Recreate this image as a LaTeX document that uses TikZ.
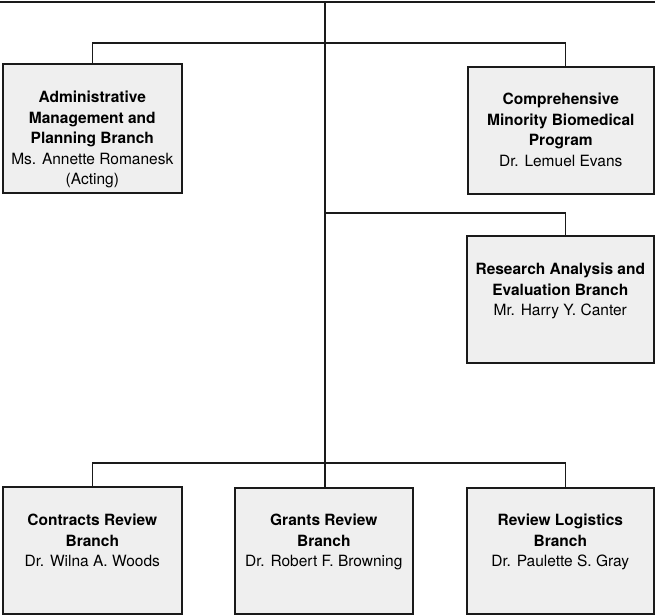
\documentclass[tikz,border=0pt]{standalone}
\usepackage{fontspec}
\setmainfont{TeX Gyre Heros}
\usetikzlibrary{positioning}
\definecolor{boxfill}{HTML}{EFEFEF}
\definecolor{boxborder}{HTML}{1A1A1A}

\begin{document}
\begin{tikzpicture}[x=1pt, y=-1pt,
    font=\fontsize{15.5}{20.5}\selectfont,
    orgbox/.style={draw=boxborder, line width=1.6pt, fill=boxfill,
      anchor=north west, inner sep=0pt, minimum height=127pt},
    orglabel/.style={align=center, inner sep=0pt, anchor=north},
    link/.style={draw=boxborder, line width=1.3pt},
    topline/.style={draw=boxborder, line width=2.6pt}]
      \useasboundingbox (0,0) rectangle (655,615);

      % boxes
      \node[orgbox, minimum width=179pt, minimum height=129pt] (admin) at (2,63) {};
      \node[orgbox, minimum width=186pt] (comp) at (467,66) {};
      \node[orgbox, minimum width=187pt] (research) at (466,235) {};
      \node[orgbox, minimum width=179pt] (contracts) at (2,486) {};
      \node[orgbox, minimum width=178pt, minimum height=126pt] (grants) at (234,487) {};
      \node[orgbox, minimum width=187pt, minimum height=126pt] (logistics) at (466,487) {};

      % texts
      \node[orglabel, below=28pt of admin.north] (admintext)
        {\textbf{Administrative}\\\textbf{Management and}\\\textbf{Planning Branch}\\
         Ms. Annette Romanesk\\(Acting)};
      \node[orglabel, below=27pt of comp.north] (comptext)
        {\textbf{Comprehensive}\\\textbf{Minority Biomedical}\\\textbf{Program}\\
         Dr. Lemuel Evans};
      \node[orglabel, below=28pt of research.north] (researchtext)
        {\textbf{Research Analysis and}\\\textbf{Evaluation Branch}\\Mr. Harry Y. Canter};
      \node[orglabel, below=28pt of contracts.north] (contractstext)
        {\textbf{Contracts Review}\\\textbf{Branch}\\Dr. Wilna A. Woods};
      \node[orglabel, below=27pt of grants.north] (grantstext)
        {\textbf{Grants Review}\\\textbf{Branch}\\Dr. Robert F. Browning};
      \node[orglabel, below=27pt of logistics.north] (logisticstext)
        {\textbf{Review Logistics}\\\textbf{Branch}\\Dr. Paulette S. Gray};

      % trunk
      \coordinate (rulewest) at (0,2);
      \coordinate (ruleeast) at (655,2);
      \coordinate (t0) at (325,2);
      \coordinate (t1) at (325,43);
      \coordinate (t2) at (325,213);
      \coordinate (t3) at (325,463);

      \draw[topline] (rulewest) -- (ruleeast);
      \draw[link] (t0) -- (t3);
      \draw[link] (admin.north) |- (t1) -| ([xshift=5pt]comp.north);
      \draw[link] (t2) -| ([xshift=5pt]research.north);
      \draw[link] (contracts.north) |- (t3) -| ([xshift=5pt]logistics.north);
      \draw[link] (t3) -- (t3 |- grants.north);
    \end{tikzpicture}
\end{document}
